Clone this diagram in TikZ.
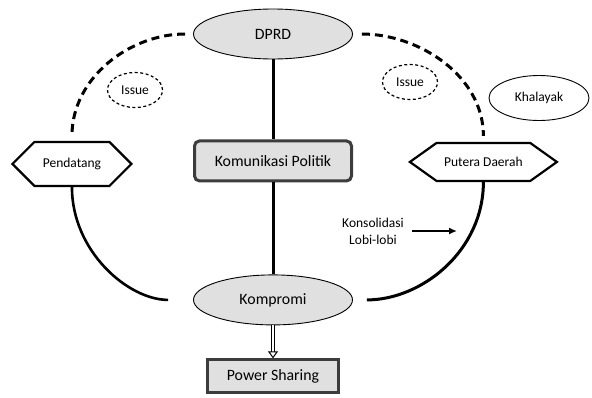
\documentclass[tikz,border=0pt]{standalone}
\usepackage{fontspec}
\setmainfont{Carlito}
\usetikzlibrary{arrows.meta, positioning, shapes.geometric, shapes.symbols}

\definecolor{boxgray}{HTML}{E0E0E0}
\definecolor{rimgray}{HTML}{3C3C3C}

\begin{document}
\begin{tikzpicture} [
    x=1pt, y=1pt,
    every node/.style={font=\fontsize{13.5}{17}\selectfont, inner sep=2pt},
    oval/.style={draw, shape=ellipse, fill=boxgray, line width=0.9pt, minimum width=159pt, minimum height=50pt, font=\fontsize{15.8}{18}\selectfont},
    roundbox/.style={draw=rimgray, line width=3pt, rounded corners=5pt, fill=boxgray, minimum width=157pt, minimum height=40pt, font=\fontsize{15.8}{18}\selectfont},
    sharebox/.style={draw=rimgray, line width=3pt, fill=boxgray, minimum width=131pt, minimum height=33pt, font=\fontsize{15.8}{18}\selectfont},
    hexa/.style={draw, shape=signal, signal to=west and east, line width=2.2pt},
    issue/.style={draw, shape=ellipse, dash pattern=on 3pt off 2.5pt, line width=1.2pt, minimum width=55pt, minimum height=35pt},
    dashed link/.style={draw, line width=3pt, dash pattern=on 8pt off 5pt},
    solid link/.style={draw, line width=2.6pt},
    spine/.style={draw, line width=3pt},
    hollow arrow/.style={draw, double, double distance=2.5pt, line width=1pt, -{Triangle[open, length=7pt, width=10pt]}}
  ]
  \useasboundingbox (0,0) rectangle (592,-397);

  % Nodes and Positions
  % TOP
  \node (DPRD) [oval] at (273,-34) {DPRD};

  % MIDDLE
  \node (KOMUNIKASI) [roundbox, below=80pt of DPRD] {Komunikasi Politik};
  \node (PENDATANG) [hexa, minimum width=119pt, minimum height=44pt, left=60pt of KOMUNIKASI, yshift=-3pt] {Pendatang};
  \node (PUTERA) [hexa, signal pointer angle=71, minimum width=147pt, minimum height=38pt, right=55pt of KOMUNIKASI, yshift=-1pt] {Putera Daerah};

  % SIDE LABELS
  \node (ISSUEL) [issue] at (135,-90) {Issue};
  \node (ISSUER) [issue] at (410,-82) {Issue};
  \node (KHALAYAK) [draw, shape=ellipse, line width=0.9pt, minimum width=100pt, minimum height=45pt] at (539,-98) {Khalayak};
  \node (KONSOL) [align=center, inner sep=0pt] at (373,-231) {Konsolidasi\\Lobi-lobi};
  \coordinate (LOBI) at (457,-231);

  % BOTTOM
  \node (KOMPROMI) [oval, below=92pt of KOMUNIKASI] {Kompromi};
  \node (SHARING) [sharebox, below=33pt of KOMPROMI] {Power Sharing};

  % Edges
  \path (DPRD) edge[spine] (KOMUNIKASI);
  \path (KOMUNIKASI) edge[spine] (KOMPROMI);
  \path (KOMPROMI) edge[hollow arrow] (SHARING);

  \path (DPRD) edge[dashed link, out=180, in=90, shorten <=8pt, shorten >=5pt] (PENDATANG);
  \path (DPRD) edge[dashed link, out=0, in=90, shorten <=9pt, shorten >=6pt] (PUTERA);

  \path (PENDATANG) edge[solid link, out=-90, in=180, shorten >=25pt] (KOMPROMI);
  \path (PUTERA) edge[solid link, line width=3pt, out=-90, in=0, shorten >=14pt] (KOMPROMI);

  \path (KONSOL) edge[-{Latex[length=8pt, width=7pt]}, line width=1.6pt, shorten <=8pt] (LOBI);

\end{tikzpicture}
\end{document}
